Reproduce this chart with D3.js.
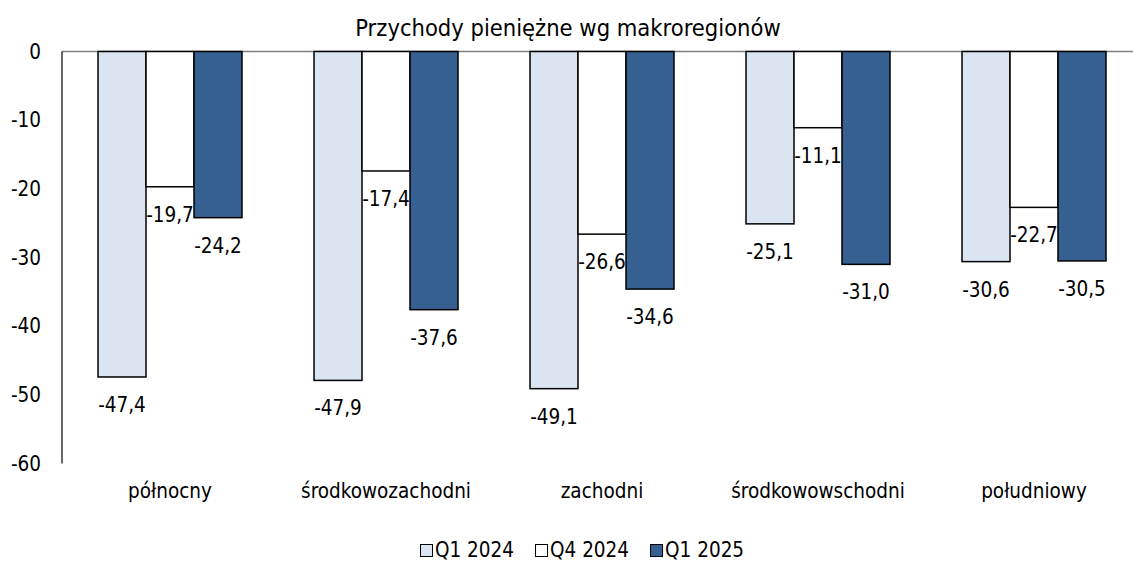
<!DOCTYPE html>
<html>
<head>
<meta charset="utf-8">
<script src="https://cdn.jsdelivr.net/npm/d3@7"></script>
<style>
  body { margin: 0; background: #fff; }
  text { font-family: "DejaVu Sans Condensed", "DejaVu Sans", sans-serif; font-stretch: condensed; fill: #000; }
</style>
</head>
<body>
<script>
// chart data
var title = 'Przychody pieniężne wg makroregionów'
var regions = ['północny', 'środkowozachodni', 'zachodni', 'środkowowschodni', 'południowy']
var seriesNames = ['Q1 2024', 'Q4 2024', 'Q1 2025']
var q1_2024 = [-47.4, -47.9, -49.1, -25.1, -30.6]
var q4_2024 = [-19.7, -17.4, -26.6, -11.1, -22.7]
var q1_2025 = [-24.2, -37.6, -34.6, -31.0, -30.5]
var yTicks = [0, -10, -20, -30, -40, -50, -60]
var colors = ['#dbe5f1', '#ffffff', '#376092']

var seriesValues = [q1_2024, q4_2024, q1_2025]

var width = 1133
var height = 562
var fontSize = 20.5

var svg = d3.select('body').append('svg')
    .attr('width', width)
    .attr('height', height)

var x = d3.scaleBand().domain(regions).range([62, 1142])
var groupWidth = 144
var xs = d3.scaleBand().domain(seriesNames).range([0, groupWidth])
var y = d3.scaleLinear().domain([-60, 0]).range([463.5, 51.5])

function fmt(v) { return v.toFixed(1).replace('.', ',') }

// title
svg.append('text')
    .attr('x', 568)
    .attr('y', 36)
    .attr('text-anchor', 'middle')
    .style('font-size', '23.5px')
    .text(title)

// y axis labels
var yAxis = d3.axisLeft(y).tickValues(yTicks).tickSize(0).tickPadding(21).tickFormat(d => d)
var gy = svg.append('g').attr('transform', 'translate(62,0)').call(yAxis)
gy.select('.domain').remove()
gy.selectAll('text')
    .style('font-size', fontSize + 'px')
    .style('font-family', null)

// bars
var groups = svg.selectAll('g.region')
    .data(regions)
    .enter().append('g')
        .attr('class', 'region')
        .attr('transform', d => 'translate(' + (x(d) + (x.bandwidth() - groupWidth) / 2) + ',0)')

seriesNames.forEach(function(s, j) {
    groups.append('rect')
        .attr('x', xs(s))
        .attr('y', y(0))
        .attr('width', xs.bandwidth())
        .attr('height', (d, i) => y(seriesValues[j][i]) - y(0))
        .attr('fill', colors[j])
        .attr('stroke', '#000')
        .attr('stroke-width', 1.5)

    groups.append('text')
        .attr('x', xs(s) + xs.bandwidth() / 2)
        .attr('y', (d, i) => y(seriesValues[j][i]) + 35)
        .attr('text-anchor', 'middle')
        .style('font-size', fontSize + 'px')
        .text((d, i) => fmt(seriesValues[j][i]))
})

// zero line and vertical axis
svg.append('line')
    .attr('x1', 62).attr('x2', width)
    .attr('y1', y(0)).attr('y2', y(0))
    .attr('stroke', '#808080').attr('stroke-width', 1.5)
svg.selectAll('g.region').raise()
svg.append('line')
    .attr('x1', 62).attr('x2', 62)
    .attr('y1', y(0)).attr('y2', y(-60))
    .attr('stroke', '#000').attr('stroke-width', 1.2)

// category labels
var xAxis = d3.axisBottom(x).tickSize(0).tickPadding(0)
var gx = svg.append('g').attr('transform', 'translate(0,' + y(-60) + ')').call(xAxis)
gx.select('.domain').remove()
gx.selectAll('text')
    .attr('dy', null)
    .attr('y', 34.5)
    .style('font-size', fontSize + 'px')
    .style('font-family', null)

// legend
var legend = svg.append('g')
var lx = 420
seriesNames.forEach(function(s, j) {
    legend.append('rect')
        .attr('x', lx + 0.5).attr('y', 544.5)
        .attr('width', 12).attr('height', 12)
        .attr('fill', colors[j])
        .attr('stroke', '#000').attr('stroke-width', 1)
    var t = legend.append('text')
        .attr('x', lx + 15).attr('y', 557)
        .style('font-size', fontSize + 'px')
        .text(s)
    lx += 15 + t.node().getComputedTextLength() + 21
})
</script>
</body>
</html>
